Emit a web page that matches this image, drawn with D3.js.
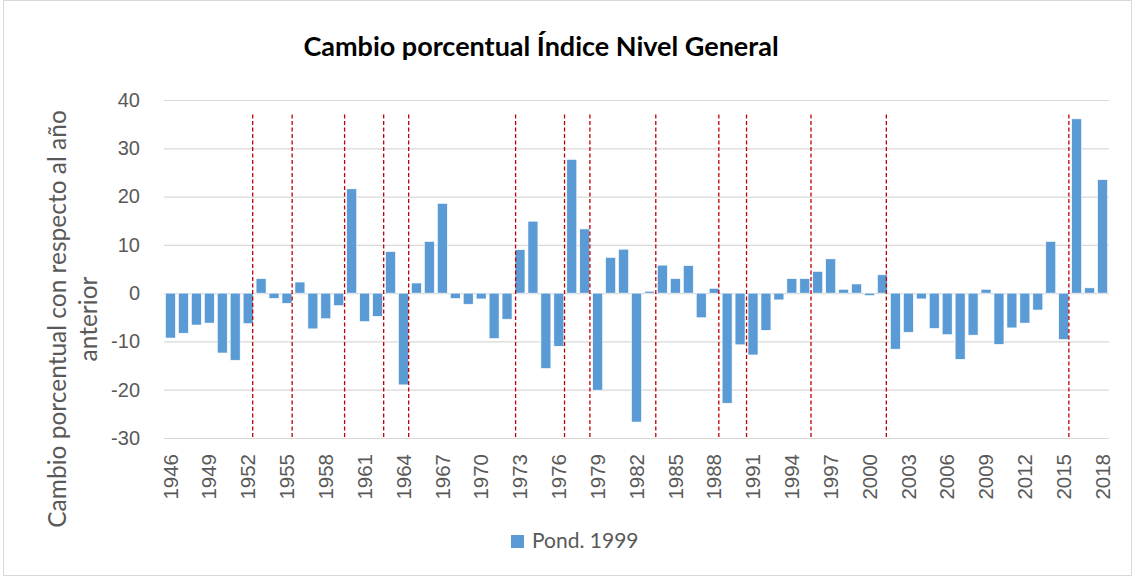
<!DOCTYPE html>
<html>
<meta charset="utf-8">
<style>
    body { margin: 0; background: #fff; }
    svg { font-family: Lato, "Open Sans", sans-serif; }
    .tick text { fill: #595959; }
</style>
<body>
<script src="https://d3js.org/d3.v7.min.js"></script>
<script>

    // data
    var years = d3.range(1946, 2019);
    var values = [
        -9.3, -8.3, -6.6, -6.2, -12.4, -13.9, -6.3, 3.0, -1.1, -2.1,
        2.3, -7.4, -5.3, -2.6, 21.6, -5.9, -4.8, 8.6, -19.0, 2.1,
        10.7, 18.6, -1.1, -2.3, -1.2, -9.4, -5.4, 9.0, 14.9, -15.6,
        -11.0, 27.7, 13.3, -20.1, 7.4, 9.1, -26.7, 0.4, 5.8, 3.0,
        5.7, -5.1, 1.0, -22.8, -10.7, -12.8, -7.7, -1.4, 3.0, 3.0,
        4.5, 7.1, 0.8, 1.9, -0.5, 3.8, -11.6, -8.1, -1.2, -7.3,
        -8.6, -13.7, -8.7, 0.8, -10.6, -7.2, -6.2, -3.5, 10.7, -9.6,
        36.1, 1.1, 23.5
    ];
    var yTicks = [-30, -20, -10, 0, 10, 20, 30, 40];
    var xTickYears = d3.range(1946, 2019, 3);
    // red dashed markers, in (fractional) years
    var markers = [1952.35, 1955.4, 1959.45, 1962.47, 1964.4, 1972.66, 1976.44,
                   1978.4, 1983.49, 1988.36, 1990.5, 1995.48, 2001.3, 2015.4];
    var markerTop = 37;

    var width = 1132, height = 576;
    var plot = {left: 164, right: 1109, top: 100, bottom: 438};

    var svg = d3.select("body").append("svg")
        .attr("width", width)
        .attr("height", height);

    svg.append("rect")
        .attr("x", 3.5).attr("y", 0.5)
        .attr("width", width - 4).attr("height", height - 1)
        .attr("fill", "none")
        .attr("stroke", "#d9d9d9");

    var x = d3.scaleBand()
        .domain(years)
        .range([plot.left, plot.right])
        .paddingInner(0.23)
        .paddingOuter(0.115);

    var y = d3.scaleLinear()
        .domain([-30, 40])
        .range([plot.bottom, plot.top]);

    // linear year scale through the band centres, for the markers
    var xYear = d3.scaleLinear()
        .domain([1946, 2018])
        .range([x(1946) + x.bandwidth() / 2, x(2018) + x.bandwidth() / 2]);

    // gridlines + y labels (plain hyphen for negatives, like Excel)
    var yAxis = d3.axisLeft(y)
        .tickValues(yTicks)
        .tickFormat(function(d) { return String(d); })
        .tickSize(-(plot.right - plot.left))
        .tickPadding(24);

    var gy = svg.append("g")
        .attr("transform", "translate(" + plot.left + ",0)")
        .call(yAxis);
    gy.select(".domain").remove();
    gy.selectAll(".tick line")
        .attr("stroke", "#d9d9d9")
        .attr("stroke-width", 1.2);
    gy.selectAll(".tick text")
        .style("font-size", "20px");

    // bars
    svg.append("g").selectAll("rect")
        .data(values)
        .enter()
        .append("rect")
        .attr("x", function(d, i) { return x(years[i]); })
        .attr("width", x.bandwidth())
        .attr("y", function(d) { return y(Math.max(0, d)); })
        .attr("height", function(d) { return Math.abs(y(d) - y(0)); })
        .attr("fill", "#5b9bd5")
        .attr("stroke", "#fff")
        .attr("stroke-width", 0.6);

    // x labels
    var xAxis = d3.axisBottom(x)
        .tickValues(xTickYears)
        .tickSize(0)
        .tickPadding(0);

    var gx = svg.append("g")
        .attr("transform", "translate(0," + plot.bottom + ")")
        .call(xAxis);
    gx.select(".domain").remove();
    gx.selectAll(".tick text")
        .style("font-size", "20.5px")
        .style("text-anchor", "end")
        .attr("transform", "translate(0,16) rotate(-90)")
        .attr("x", 0)
        .attr("y", 0)
        .attr("dy", "0.35em");

    // markers
    svg.append("g").selectAll("line")
        .data(markers)
        .enter()
        .append("line")
        .attr("x1", function(d) { return xYear(d); })
        .attr("x2", function(d) { return xYear(d); })
        .attr("y1", y(markerTop))
        .attr("y2", y(-30))
        .attr("stroke", "#c00000")
        .attr("stroke-width", 1.3)
        .attr("stroke-dasharray", "4,2.5");

    // title
    svg.append("text")
        .attr("x", 541)
        .attr("y", 56)
        .attr("text-anchor", "middle")
        .style("font-size", "27px")
        .style("font-weight", "bold")
        .attr("fill", "#000")
        .text("Cambio porcentual Índice Nivel General");

    // y title (two lines)
    var yTitle = svg.append("text")
        .attr("transform", "translate(66,319) rotate(-90)")
        .attr("text-anchor", "middle")
        .attr("fill", "#595959")
        .style("font-size", "24.5px");
    yTitle.append("tspan").attr("x", 0).attr("y", 0)
        .text("Cambio porcentual con respecto al año");
    yTitle.append("tspan").attr("x", 0).attr("y", 31)
        .text("anterior");

    // legend
    var legend = svg.append("g").attr("transform", "translate(511,535)");
    legend.append("rect")
        .attr("width", 13).attr("height", 13)
        .attr("fill", "#5b9bd5");
    legend.append("text")
        .attr("x", 21).attr("y", 13)
        .attr("fill", "#595959")
        .style("font-size", "21px")
        .text("Pond. 1999");

</script>
</html>
